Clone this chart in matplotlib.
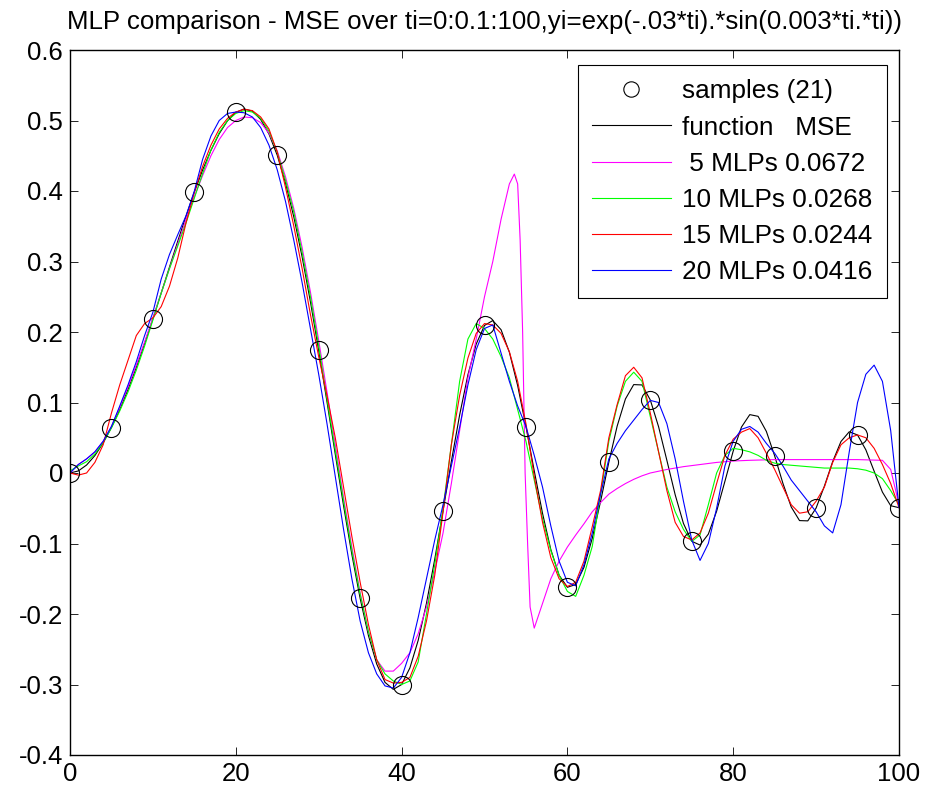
import numpy as np
import matplotlib
matplotlib.use("Agg")
import matplotlib.pyplot as plt
from matplotlib.ticker import FixedLocator, FixedFormatter

plt.rcParams['font.family'] = ['Liberation Sans', 'DejaVu Sans']

# sample points (21)
sample_t = [0, 5, 10, 15, 20, 25, 30, 35, 40, 45, 50, 55, 60, 65, 70, 75, 80, 85, 90, 95, 100]
sample_y = [0.0, 0.0645, 0.2189, 0.3986, 0.5115, 0.4507, 0.1738, -0.1779, -0.3001, -0.0536,
            0.2093, 0.0658, -0.1621, 0.0154, 0.1036, -0.0969, 0.0311, 0.0243, -0.0497, 0.0539,
            -0.0492]

# common grid for the function and most nets
t = list(range(101))

func_y = [0.0, 0.0029, 0.0113, 0.0247, 0.0426, 0.0645, 0.0900, 0.1187, 0.1501, 0.1837,
          0.2189, 0.2553, 0.2921, 0.3288, 0.3645, 0.3986, 0.4299, 0.4577, 0.4813, 0.4996,
          0.5115, 0.5164, 0.5133, 0.5015, 0.4808, 0.4507, 0.4113, 0.3631, 0.3066, 0.2430,
          0.1738, 0.1009, 0.0266, -0.0465, -0.1156, -0.1779, -0.2306, -0.2710, -0.2970, -0.3069,
          -0.3001, -0.2765, -0.2374, -0.1849, -0.1222, -0.0536, 0.0163, 0.0823, 0.1393, 0.1829,
          0.2093, 0.2162, 0.2032, 0.1713, 0.1240, 0.0658, 0.0031, -0.0573, -0.1086, -0.1450,
          -0.1621, -0.1582, -0.1338, -0.0926, -0.0403, 0.0154, 0.0664, 0.1050, 0.1254, 0.1249,
          0.1036, 0.0656, 0.0179, -0.0308, -0.0716, -0.0969, -0.1022, -0.0867, -0.0542, -0.0118,
          0.0311, 0.0652, 0.0828, 0.0804, 0.0590, 0.0243, -0.0148, -0.0482, -0.0675, -0.0679,
          -0.0497, -0.0186, 0.0162, 0.0447, 0.0585, 0.0539, 0.0329, 0.0026, -0.0271, -0.0464,
          -0.0492]

# 5 MLPs (own x points, sharp spike near 54)
mlp5_t = list(range(54)) + [53.6, 54, 54.3, 54.6, 54.9, 55.2, 55.5, 56, 57, 58, 59, 60, 61, 62,
                            63, 64, 65, 66, 67, 68, 69, 70, 72, 74, 76, 78, 80, 82, 85, 90, 95,
                            98, 99, 100]
mlp5_t = sorted(set(mlp5_t))
mlp5_y = [0.0, 0.012, 0.02, 0.03, 0.045, 0.066, 0.093, 0.122, 0.153, 0.186,
          0.22, 0.255, 0.29, 0.325, 0.36, 0.392, 0.422, 0.45, 0.473, 0.49,
          0.5, 0.505, 0.504, 0.497, 0.482, 0.457, 0.42, 0.375, 0.32, 0.257,
          0.188, 0.115, 0.04, -0.035, -0.105, -0.17, -0.225, -0.265, -0.281, -0.281,
          -0.27, -0.255, -0.228, -0.19, -0.14, -0.085, -0.015, 0.06, 0.135, 0.19,
          0.25, 0.30, 0.36, 0.41, 0.424, 0.41, 0.33, 0.2, 0.0, -0.1,
          -0.19, -0.22, -0.185, -0.15, -0.125, -0.105, -0.088, -0.072, -0.055, -0.042,
          -0.03, -0.022, -0.015, -0.009, -0.004, 0.0, 0.005, 0.009, 0.012, 0.015,
          0.017, 0.018, 0.019, 0.019, 0.019, 0.018, 0.005, -0.045]

mlp10_y = [0.003, 0.01, 0.016, 0.027, 0.043, 0.064, 0.088, 0.115, 0.146, 0.18,
           0.217, 0.255, 0.29, 0.322, 0.355, 0.39, 0.425, 0.458, 0.483, 0.5,
           0.51, 0.514, 0.512, 0.503, 0.485, 0.455, 0.415, 0.37, 0.313, 0.25,
           0.18, 0.105, 0.032, -0.04, -0.11, -0.172, -0.225, -0.265, -0.285, -0.295,
           -0.30, -0.295, -0.268, -0.2, -0.13, -0.05, 0.04, 0.13, 0.19, 0.212,
           0.205, 0.19, 0.165, 0.135, 0.09, 0.045, -0.01, -0.065, -0.11, -0.145,
           -0.168, -0.175, -0.145, -0.104, -0.03, 0.045, 0.095, 0.13, 0.143, 0.13,
           0.08, 0.03, -0.02, -0.055, -0.08, -0.097, -0.088, -0.045, 0.0, 0.025,
           0.035, 0.033, 0.03, 0.025, 0.018, 0.014, 0.012, 0.011, 0.01, 0.009,
           0.008, 0.007, 0.007, 0.007, 0.007, 0.006, 0.004, 0.0, -0.008, -0.025,
           -0.045]

mlp15_y = [0.0, -0.003, 0.0, 0.015, 0.04, 0.085, 0.125, 0.16, 0.195, 0.212,
           0.22, 0.236, 0.265, 0.305, 0.355, 0.398, 0.435, 0.465, 0.488, 0.503,
           0.512, 0.516, 0.514, 0.505, 0.488, 0.455, 0.405, 0.35, 0.29, 0.225,
           0.165, 0.11, 0.05, -0.02, -0.09, -0.155, -0.215, -0.265, -0.293, -0.298,
           -0.297, -0.29, -0.26, -0.21, -0.145, -0.055, 0.04, 0.11, 0.163, 0.198,
           0.212, 0.21, 0.198, 0.172, 0.13, 0.07, -0.005, -0.07, -0.12, -0.15,
           -0.161, -0.155, -0.125, -0.076, -0.025, 0.05, 0.097, 0.138, 0.15, 0.135,
           0.085, 0.03, -0.025, -0.07, -0.09, -0.095, -0.085, -0.057, -0.015, 0.025,
           0.048, 0.058, 0.063, 0.05, 0.028, 0.005, -0.02, -0.045, -0.057, -0.055,
           -0.04, -0.02, 0.015, 0.04, 0.05, 0.054, 0.05, 0.035, 0.012, -0.015,
           -0.049]

mlp20_y = [0.0, 0.012, 0.02, 0.03, 0.045, 0.066, 0.095, 0.125, 0.158, 0.195,
           0.228, 0.275, 0.31, 0.338, 0.365, 0.40, 0.445, 0.478, 0.50, 0.51,
           0.512, 0.511, 0.505, 0.49, 0.465, 0.43, 0.385, 0.33, 0.27, 0.205,
           0.14, 0.07, -0.005, -0.08, -0.15, -0.21, -0.255, -0.285, -0.302, -0.305,
           -0.29, -0.255, -0.205, -0.15, -0.095, -0.045, 0.01, 0.065, 0.125, 0.175,
           0.205, 0.21, 0.17, 0.13, 0.095, 0.066, 0.025, -0.02, -0.075, -0.125,
           -0.155, -0.16, -0.13, -0.085, -0.03, 0.02, 0.042, 0.06, 0.075, 0.09,
           0.103, 0.1, 0.07, 0.02, -0.04, -0.095, -0.124, -0.1, -0.05, 0.01,
           0.045, 0.062, 0.066, 0.058, 0.042, 0.028, 0.01, -0.01, -0.025, -0.04,
           -0.055, -0.075, -0.085, -0.045, 0.03, 0.1, 0.14, 0.153, 0.13, 0.06,
           -0.049]

labels = ['samples (21)', 'function   MSE', ' 5 MLPs 0.0672', '10 MLPs 0.0268',
          '15 MLPs 0.0244', '20 MLPs 0.0416']

yticks = [-0.4, -0.3, -0.2, -0.1, 0, 0.1, 0.2, 0.3, 0.4, 0.5, 0.6]
ytick_labels = ['-0.4', '-0.3', '-0.2', '-0.1', '0', '0.1', '0.2', '0.3', '0.4', '0.5', '0.6']
xticks = [0, 20, 40, 60, 80, 100]

fig = plt.figure(figsize=(9.43, 7.87), dpi=100)
ax = fig.add_axes([70 / 943, 32 / 787, 829 / 943, 705 / 787])

lw = 0.8
h_s, = ax.plot(sample_t, sample_y, 'o', mfc='none', mec='black', ms=13, mew=0.8, zorder=5)
h_f, = ax.plot(t, func_y, color='black', lw=lw)
h_5, = ax.plot(mlp5_t, mlp5_y, color='#ff00ff', lw=lw)
h_10, = ax.plot(t, mlp10_y, color='#00ff00', lw=lw)
h_15, = ax.plot(t, mlp15_y, color='#ff0000', lw=lw)
h_20, = ax.plot(t, mlp20_y, color='#0000ff', lw=lw)

ax.set_xlim(0, 100)
ax.set_ylim(-0.4, 0.6)
ax.xaxis.set_major_locator(FixedLocator(xticks))
ax.set_xticklabels([str(v) for v in xticks])
ax.yaxis.set_major_locator(FixedLocator(yticks))
ax.yaxis.set_major_formatter(FixedFormatter(ytick_labels))
ax.tick_params(direction='in', length=6, width=0.6, labelsize=18.5,
               top=True, right=True, pad=5)
for sp in ax.spines.values():
    sp.set_linewidth(1.0)

ax.set_title('MLP comparison - MSE over ti=0:0.1:100,yi=exp(-.03*ti).*sin(0.003*ti.*ti))',
             fontsize=18.6, pad=15)

leg = ax.legend([h_s, h_f, h_5, h_10, h_15, h_20], labels, loc='upper right',
                bbox_to_anchor=(0.9855, 0.9787), borderaxespad=0, fontsize=18.8,
                fancybox=False, framealpha=1, edgecolor='black', handlelength=3.0,
                handletextpad=0.45, labelspacing=0.465, borderpad=0.55, markerscale=0.85)
leg.get_frame().set_linewidth(0.8)

fig.savefig('out.png', dpi=100)
